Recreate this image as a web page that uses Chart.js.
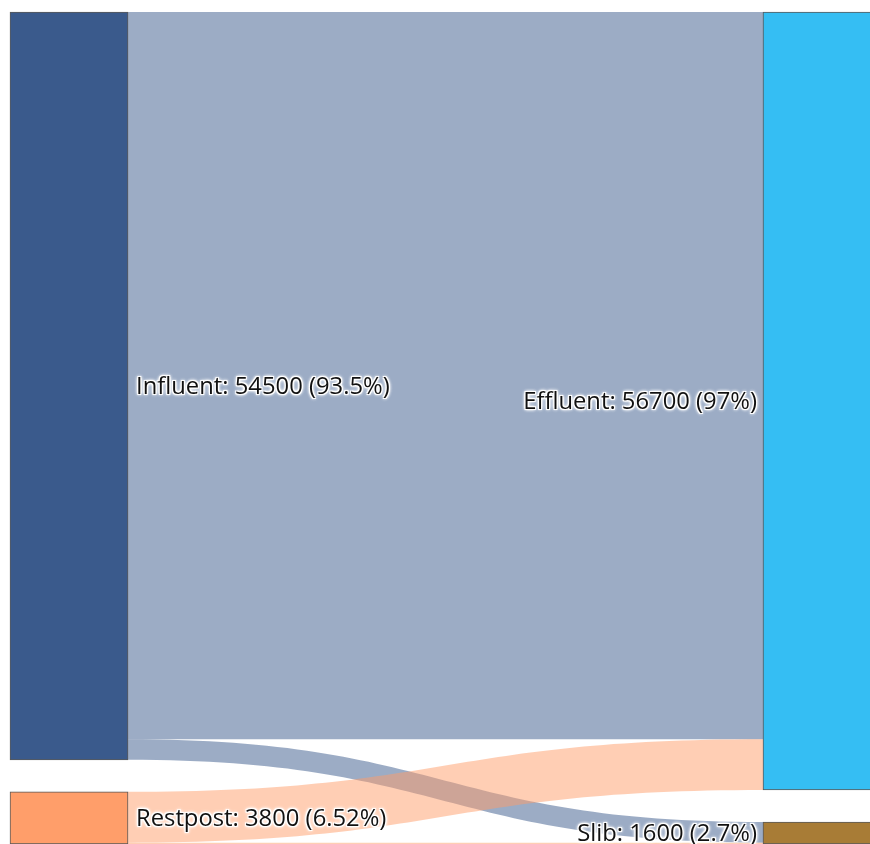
<!DOCTYPE html>
<html>
<head>
<meta charset="utf-8">
<script src="https://cdn.jsdelivr.net/npm/chart.js@4/dist/chart.umd.min.js"></script>
<style>
  html, body { margin: 0; padding: 0; background: #fff; overflow: hidden; }
  #wrap { width: 870px; height: 844px; }
</style>
</head>
<body>
<div id="wrap"><canvas id="sankey" width="870" height="844"></canvas></div>
<script>
// Sankey: Influent / Restpost -> Effluent / Slib

const nodeNames = ['Influent', 'Restpost', 'Effluent', 'Slib'];
const nodeColumns = [0, 0, 1, 1];
const nodePercents = ['93.5%', '6.52%', '97%', '2.7%'];
const nodeColors = ['#3a5a8c', '#ff9e6a', '#35bef3', '#a87c36'];

const linkSources = [0, 0, 1, 1];
const linkTargets = [2, 3, 2, 3];
const linkValues = [53000, 1500, 3700, 100];

const NODE_W = 118;     // node width in px
const NODE_GAP = 2332;  // vertical gap between nodes, in flow units

// node sizes = max(inflow, outflow), stacked per column
function nodeLayout() {
  const value = nodeNames.map((_, i) => {
    let out = 0, inn = 0;
    linkValues.forEach((v, k) => {
      if (linkSources[k] === i) out += v;
      if (linkTargets[k] === i) inn += v;
    });
    return Math.max(out, inn);
  });
  const colOffset = {};
  const y0 = [], y1 = [];
  nodeNames.forEach((_, i) => {
    const c = nodeColumns[i];
    const start = colOffset[c] || 0;
    y0[i] = start;
    y1[i] = start + value[i];
    colOffset[c] = y1[i] + NODE_GAP;
  });
  const yMax = Math.max(...Object.values(colOffset)) - NODE_GAP;
  return { value, y0, y1, yMax };
}

const layout = nodeLayout();

function withAlpha(hex, a) {
  const n = parseInt(hex.slice(1), 16);
  return `rgba(${n >> 16},${(n >> 8) & 255},${n & 255},${a})`;
}

const sankeyPlugin = {
  id: 'sankeyLinks',
  beforeDatasetsDraw(chart) {
    const ctx = chart.ctx;
    const xs = chart.scales.x, ys = chart.scales.y;
    const half = NODE_W / 2;
    const outOff = layout.y0.slice();
    const inOff = layout.y0.slice();
    ctx.save();
    linkValues.forEach((v, k) => {
      const s = linkSources[k], t = linkTargets[k];
      const sx = xs.getPixelForValue(nodeColumns[s]) + half;
      const tx = xs.getPixelForValue(nodeColumns[t]) - half;
      const sy0 = ys.getPixelForValue(outOff[s]);
      const sy1 = ys.getPixelForValue(outOff[s] + v);
      const ty0 = ys.getPixelForValue(inOff[t]);
      const ty1 = ys.getPixelForValue(inOff[t] + v);
      outOff[s] += v;
      inOff[t] += v;
      const xm = (sx + tx) / 2;
      ctx.beginPath();
      ctx.moveTo(sx, sy0);
      ctx.bezierCurveTo(xm, sy0, xm, ty0, tx, ty0);
      ctx.lineTo(tx, ty1);
      ctx.bezierCurveTo(xm, ty1, xm, sy1, sx, sy1);
      ctx.closePath();
      ctx.fillStyle = withAlpha(nodeColors[s], 0.5);
      ctx.fill();
    });
    ctx.restore();
  },
  afterDatasetsDraw(chart) {
    const ctx = chart.ctx;
    const xs = chart.scales.x, ys = chart.scales.y;
    const half = NODE_W / 2;
    ctx.save();
    ctx.font = '23.8px "Open Sans", sans-serif';
    ctx.textBaseline = 'middle';
    nodeNames.forEach((name, i) => {
      const text = `${name}: ${layout.value[i]} (${nodePercents[i]})`;
      const cx = xs.getPixelForValue(nodeColumns[i]);
      const cy = (ys.getPixelForValue(layout.y0[i]) + ys.getPixelForValue(layout.y1[i])) / 2 + 1;
      let tx;
      if (nodeColumns[i] === 0) {
        ctx.textAlign = 'left';
        tx = cx + half + 8;
      } else {
        ctx.textAlign = 'right';
        tx = cx - half - 6;
      }
      // soft white halo
      ctx.fillStyle = '#fff';
      ctx.shadowColor = '#fff';
      ctx.shadowBlur = 3;
      [[1, 1], [-1, -1], [1, -1], [-1, 1]].forEach(([dx, dy]) => {
        ctx.fillText(text, tx + dx, cy + dy);
      });
      ctx.shadowBlur = 0;
      ctx.shadowColor = 'transparent';
      ctx.fillStyle = '#111';
      ctx.fillText(text, tx, cy);
    });
    ctx.restore();
  }
};

new Chart(document.getElementById('sankey'), {
  type: 'bar',
  data: {
    datasets: [{
      data: nodeNames.map((_, i) => ({ x: nodeColumns[i], y: [layout.y0[i], layout.y1[i]] })),
      backgroundColor: nodeColors,
      borderColor: 'rgba(60,60,60,0.85)',
      borderWidth: 1,
      borderSkipped: false,
      barThickness: NODE_W,
      clip: false,
    }],
  },
  options: {
    responsive: false,
    animation: false,
    layout: { padding: { left: 10 + NODE_W / 2, right: 870 - (763 + NODE_W / 2), top: 12, bottom: 0 } },
    scales: {
      x: { type: 'linear', min: 0, max: 1, display: false, offset: false },
      y: { type: 'linear', min: 0, max: layout.yMax, reverse: true, display: false },
    },
    plugins: { legend: { display: false }, tooltip: { enabled: false } },
  },
  plugins: [sankeyPlugin],
});
</script>
</body>
</html>
